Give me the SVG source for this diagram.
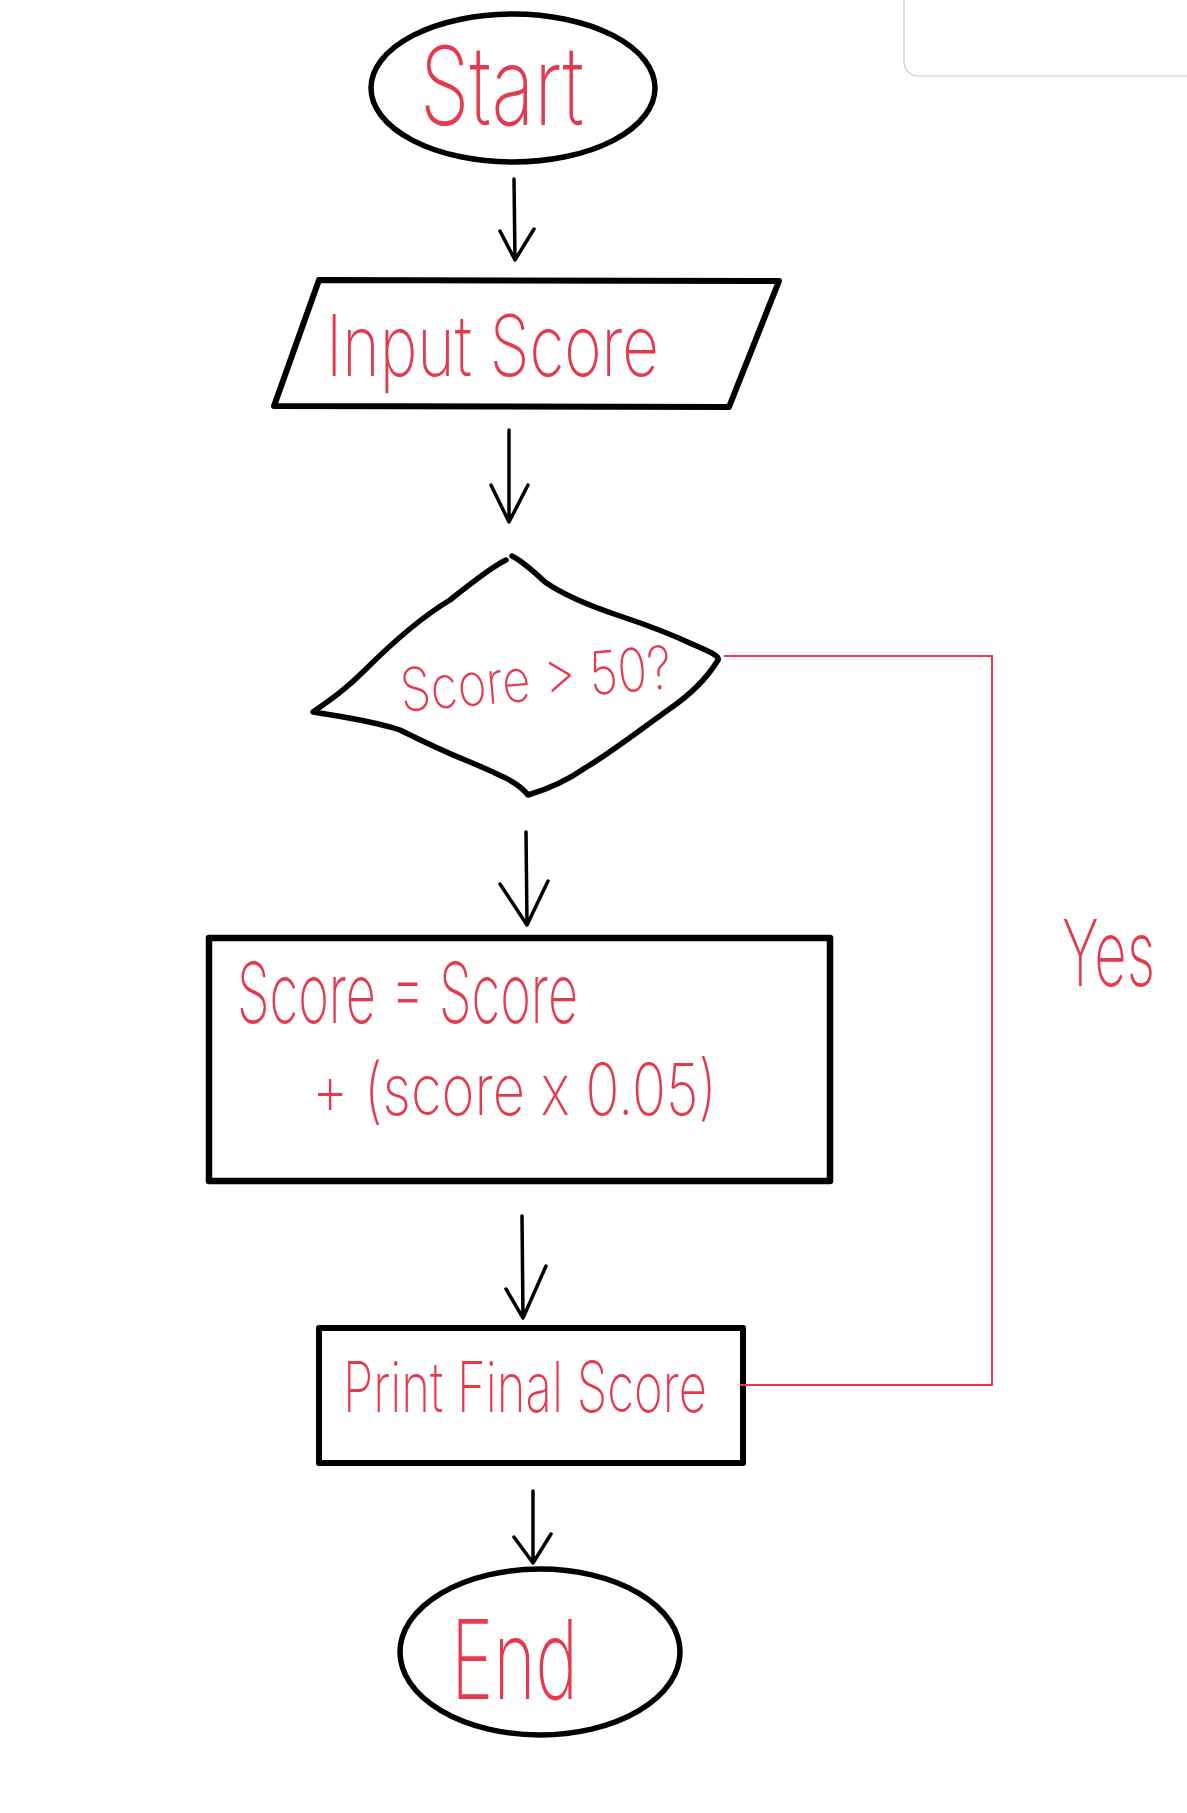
<svg xmlns="http://www.w3.org/2000/svg" width="1187" height="1813" viewBox="0 0 1187 1813">
<style>
.shape{fill:none;stroke:#000;stroke-linecap:round;stroke-linejoin:round}
.lbl{fill:#e53a4e;font-family:Inter,"Open Sans","Liberation Sans",sans-serif;font-weight:200}
.arrow{fill:none;stroke:#000;stroke-width:3.5;stroke-linecap:round;stroke-linejoin:round}
.red{fill:none;stroke:#e53a4e;stroke-width:2}
</style>
<rect width="1187" height="1813" fill="#fff"/>
<rect x="904" y="-20" width="310" height="96" rx="14" fill="#fff" stroke="#c8c8c8" stroke-width="1.2"/>

<g id="start">
<ellipse class="shape" cx="513" cy="88" rx="142" ry="74" stroke-width="5.5"/>
<text class="lbl" x="420" y="125" font-size="109" textLength="164" lengthAdjust="spacingAndGlyphs">Start</text>
</g>

<g id="input">
<path class="shape" stroke-width="6" d="M319 280 L779 281 L729 407 L274 406 L319 280"/>
<text class="lbl" x="326" y="376" font-size="85" textLength="333" lengthAdjust="spacingAndGlyphs">Input Score</text>
</g>

<g id="decision">
<path class="shape" stroke-width="5.5" d="M512 556 C520 560 530 568 545 582 C565 596 590 606 620 616 C650 626 675 636 692 644 C710 652 720 656 718 660 C706 680 690 695 668 710 C640 730 612 752 585 768 C565 782 545 790 528 795 C518 782 500 775 470 762 C440 750 420 740 400 730 C370 720 330 715 313 712 C330 700 345 690 365 670 C395 640 425 615 450 600 C475 580 495 565 506 560"/>
<text class="lbl" x="536" y="700" font-size="60" text-anchor="middle" textLength="272" lengthAdjust="spacingAndGlyphs" transform="rotate(-5 536 684)">Score &gt; 50?</text>
</g>

<g id="process">
<rect class="shape" x="209" y="938" width="621" height="243" stroke-width="6.5"/>
<text class="lbl" x="237" y="1023" font-size="84" textLength="341" lengthAdjust="spacingAndGlyphs">Score  =  Score</text>
<text class="lbl" x="312" y="1115" font-size="72" textLength="405" lengthAdjust="spacingAndGlyphs">+ (score x 0.05)</text>
</g>

<g id="print">
<rect class="shape" x="319" y="1328" width="424" height="135" stroke-width="6"/>
<text class="lbl" x="343" y="1412" font-size="70" textLength="364" lengthAdjust="spacingAndGlyphs">Print  Final  Score</text>
</g>

<g id="end">
<ellipse class="shape" cx="540" cy="1652" rx="140" ry="83" stroke-width="5.5"/>
<text class="lbl" x="451" y="1699" font-size="110" textLength="127" lengthAdjust="spacingAndGlyphs">End</text>
</g>

<g id="connectors">
<path class="arrow" d="M514 179 L515 260 M500 231 L515 260 L534 229"/>
<path class="arrow" d="M509 430 L509 522 M491 485 L509 522 L528 485"/>
<path class="arrow" stroke-width="4" d="M526 832 L527 925 M500 884 L527 925 L548 881"/>
<path class="arrow" d="M522 1216 L523 1318 M506 1289 L523 1318 L546 1266"/>
<path class="arrow" d="M533 1491 L533 1563 M514 1537 L533 1563 L551 1534"/>
<polyline class="red" points="724,656 992,656 992,1385 740,1385"/>
<text class="lbl" x="0" y="0" font-size="92" textLength="155" lengthAdjust="spacingAndGlyphs" transform="translate(1062 986) scale(0.6 1)">Yes</text>
</g>
</svg>
